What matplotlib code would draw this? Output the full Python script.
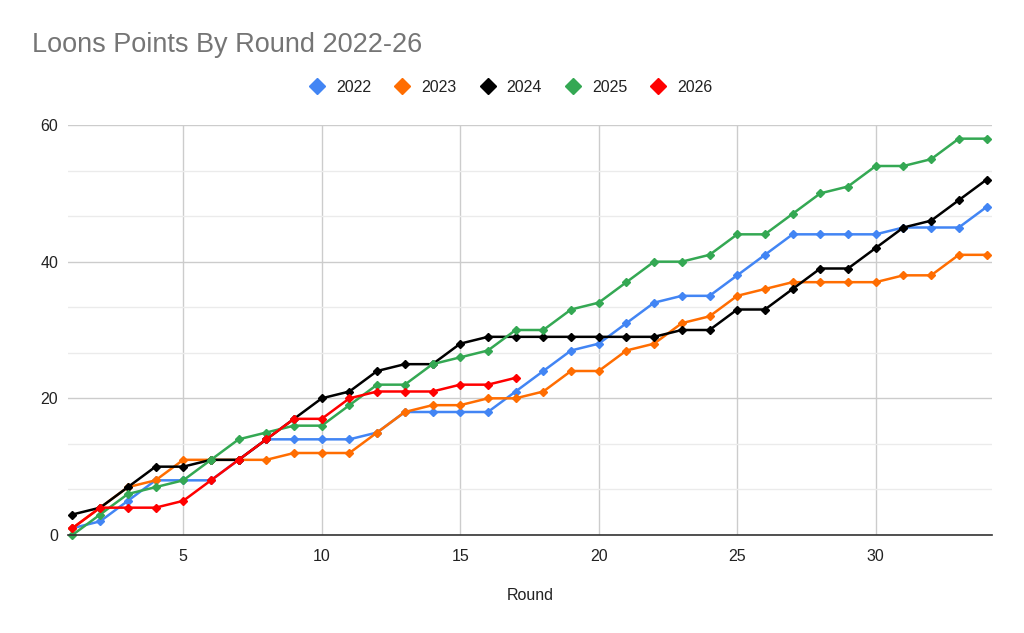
import matplotlib
matplotlib.use("Agg")
import matplotlib.pyplot as plt
from matplotlib.ticker import MultipleLocator
import numpy as np

plt.rcParams['font.family'] = ['Liberation Sans', 'DejaVu Sans']

rounds = list(range(1, 35))
pts_2022 = [1, 2, 5, 8, 8, 8, 11, 14, 14, 14, 14, 15, 18, 18, 18, 18, 21, 24, 27, 28,
            31, 34, 35, 35, 38, 41, 44, 44, 44, 44, 45, 45, 45, 48]
pts_2023 = [1, 4, 7, 8, 11, 11, 11, 11, 12, 12, 12, 15, 18, 19, 19, 20, 20, 21, 24, 24,
            27, 28, 31, 32, 35, 36, 37, 37, 37, 37, 38, 38, 41, 41]
pts_2024 = [3, 4, 7, 10, 10, 11, 11, 14, 17, 20, 21, 24, 25, 25, 28, 29, 29, 29, 29, 29,
            29, 29, 30, 30, 33, 33, 36, 39, 39, 42, 45, 46, 49, 52]
pts_2025 = [0, 3, 6, 7, 8, 11, 14, 15, 16, 16, 19, 22, 22, 25, 26, 27, 30, 30, 33, 34,
            37, 40, 40, 41, 44, 44, 47, 50, 51, 54, 54, 55, 58, 58]
pts_2026 = [1, 4, 4, 4, 5, 8, 11, 14, 17, 17, 20, 21, 21, 21, 22, 22, 23]

series_names = ["2022", "2023", "2024", "2025", "2026"]
series_vals = [pts_2022, pts_2023, pts_2024, pts_2025, pts_2026]
colors = ["#4285F4", "#FF6D01", "#000000", "#34A853", "#FF0000"]

x_ticks = [5, 10, 15, 20, 25, 30]
y_ticks = [0, 20, 40, 60]

fig = plt.figure(figsize=(10.24, 6.33), dpi=100)
ax = fig.add_axes([68/1024, (633-535)/633, (991.5-68)/1024, (535-125)/633])

for name, vals, c in zip(series_names, series_vals, colors):
    ax.plot(rounds[:len(vals)], vals, color=c, lw=1.8, marker="D", ms=3.6,
            mec=c, mfc=c, label=name, solid_joinstyle="round", clip_on=False)

ax.set_xlim(0.84, 34.18)
ax.set_ylim(0, 60)
ax.set_xticks(x_ticks)
ax.set_yticks(y_ticks)
ax.yaxis.set_minor_locator(MultipleLocator(20/3))
ax.grid(axis="x", which="major", color="#cccccc", lw=1)
ax.grid(axis="y", which="major", color="#cccccc", lw=1)
ax.grid(axis="y", which="minor", color="#ebebeb", lw=1)
ax.set_axisbelow(True)
for s in ["top", "right", "left"]:
    ax.spines[s].set_visible(False)
ax.spines["bottom"].set_color("#333333")
ax.spines["bottom"].set_linewidth(1.2)
ax.tick_params(axis="both", which="both", length=0, labelsize=11.5, colors="#222222")
ax.tick_params(axis="x", pad=10)
ax.tick_params(axis="y", pad=7)
ax.set_xlabel("Round", fontsize=11.5, color="#222222", labelpad=17)

fig.text(32/1024, 1 - 45/633, "Loons Points By Round 2022-26", fontsize=19.5,
         color="#757575", ha="left", va="center")

handles = [plt.Line2D([], [], ls="none", marker="D", ms=7.8, color=c, mec=c)
           for c in colors]
fig.legend(handles, series_names, loc="center", bbox_to_anchor=(511/1024, 1 - 87/633),
           ncol=5, frameon=False, fontsize=11.5, handletextpad=0.69, columnspacing=1.44,
           handlelength=1.0, labelcolor="#222222")

fig.savefig("out.png", dpi=100, facecolor="white")
